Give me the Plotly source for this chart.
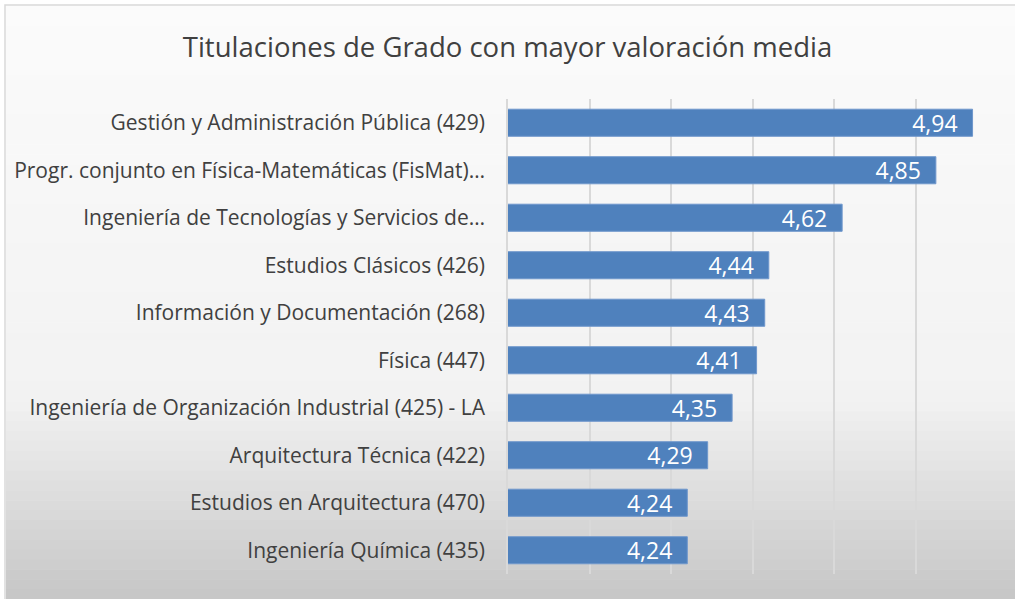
import plotly.graph_objects as go

categorias = [
    "Gestión y Administración Pública (429)",
    "Progr. conjunto en Física-Matemáticas (FisMat)…",
    "Ingeniería de Tecnologías y Servicios de…",
    "Estudios Clásicos (426)",
    "Información y Documentación (268)",
    "Física (447)",
    "Ingeniería de Organización Industrial (425) - LA",
    "Arquitectura Técnica (422)",
    "Estudios en Arquitectura (470)",
    "Ingeniería Química (435)",
]
valoracion = [4.94, 4.85, 4.62, 4.44, 4.43, 4.41, 4.35, 4.29, 4.24, 4.24]

W, H = 1015, 599
L, R, T, B = 508, 997, 99, 574


def px_x(p):
    return (p - L) / (R - L)


def px_y(p):
    return (B - p) / (B - T)


fig = go.Figure()
fig.add_trace(go.Bar(
    x=valoracion,
    y=categorias,
    orientation="h",
    width=0.57,
    marker=dict(color="#4f81bd", line=dict(color="#6f97cc", width=1)),
    texttemplate="%{x:.2f}\u00a0\u00a0",
    textposition="inside",
    insidetextanchor="end",
    textfont=dict(color="white", size=23, family="Open Sans"),
    constraintext="none",
    hoverinfo="skip",
))

# fondo degradado (blanco arriba, gris abajo) y marco del gráfico
shapes = []
top_px, bot_px = 6, 599
n = 60
for i in range(n):
    y0 = top_px + (bot_px - top_px) * i / n
    y1 = top_px + (bot_px - top_px) * (i + 1) / n
    t = (y0 + y1) / 2
    if t < 400:
        g = 251 - (251 - 242) * (t - top_px) / (400 - top_px)
    else:
        g = 242 - (242 - 198) * (t - 400) / (bot_px - 400)
    g = int(round(g))
    shapes.append(dict(
        type="rect", xref="paper", yref="paper", layer="below",
        x0=px_x(6), x1=px_x(W + 2), y0=px_y(y1 + 0.5), y1=px_y(y0),
        fillcolor=f"rgb({g},{g},{g})", line=dict(width=0),
    ))
shapes.append(dict(
    type="rect", xref="paper", yref="paper", layer="below",
    x0=px_x(5), x1=px_x(W + 5), y0=px_y(H + 5), y1=px_y(5),
    fillcolor="rgba(0,0,0,0)", line=dict(color="#d9d9d9", width=1.5),
))

fig.update_layout(
    width=W,
    height=H,
    margin=dict(l=L, r=W - R, t=T, b=H - B),
    paper_bgcolor="white",
    plot_bgcolor="rgba(0,0,0,0)",
    separators=",.",
    showlegend=False,
    shapes=shapes,
    title=dict(
        text="Titulaciones de Grado con mayor valoración media",
        x=0.5, xref="container", xanchor="center",
        y=1 - 47 / H, yref="container", yanchor="middle",
        font=dict(family="Open Sans", size=27.5, color="#404040"),
    ),
    font=dict(family="Open Sans", color="#404040"),
)

fig.update_xaxes(
    range=[3.8, 5.0],
    dtick=0.2,
    tick0=3.8,
    showticklabels=False,
    showgrid=True,
    gridcolor="#d9d9d9",
    gridwidth=1.5,
    zeroline=False,
    showline=False,
    fixedrange=True,
)
fig.update_yaxes(
    autorange="reversed",
    tickfont=dict(family="Open Sans", size=21, color="#404040"),
    ticklabelstandoff=17,
    showline=True,
    linecolor="#d9d9d9",
    linewidth=1.5,
    fixedrange=True,
    automargin=False,
)

fig.write_html(
    "out.html",
    config={"displayModeBar": False},
    post_script="document.body.style.margin='0';",
)
